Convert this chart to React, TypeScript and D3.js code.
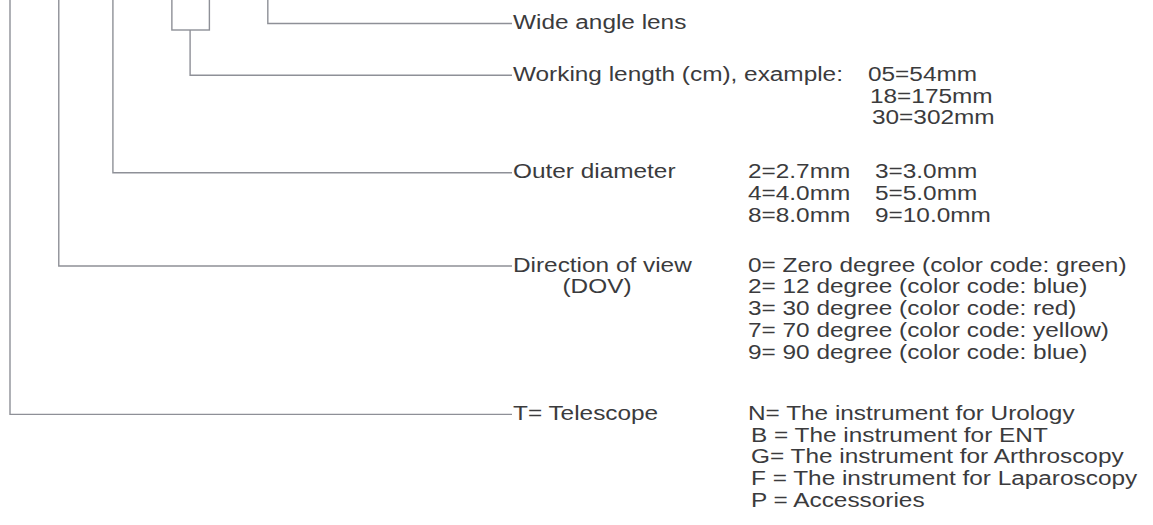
import * as d3 from "d3";

const W = 1153;
const H = 525;

// branches of the code key, top to bottom
const branchLabels = [
  "Wide angle lens",
  "Working length (cm), example:",
  "Outer diameter",
  "Direction of view",
  "T= Telescope",
];
const branchSub = ["", "", "", "(DOV)", ""];
// text line (in line units from the top) each branch sits on
const branchRow = [0, 2.38, 6.86, 11.15, 17.97];
// slot of the code character each branch hangs from (0 = leftmost)
const branchSlot = [4.81, 3.36, 1.92, 0.91, 0];

const workingLength = ["05=54mm", "18=175mm", "30=302mm"];
const outerDiameter = [
  ["2=2.7mm", "3=3.0mm"],
  ["4=4.0mm", "5=5.0mm"],
  ["8=8.0mm", "9=10.0mm"],
];
const dovCodes = [
  "0= Zero degree (color code: green)",
  "2= 12 degree (color code: blue)",
  "3= 30 degree (color code: red)",
  "7= 70 degree (color code: yellow)",
  "9= 90 degree (color code: blue)",
];
const instrumentCodes = [
  "N= The instrument for Urology",
  "B = The instrument for ENT",
  "G= The instrument for Arthroscopy",
  "F = The instrument for Laparoscopy",
  "P = Accessories",
];

const FONT = "'Liberation Sans', Arial, Helvetica, sans-serif";
const FS = 19.5;
const SX = 1.25; // the print face is wide, stretch it
const TEXT = "#3b3b3d";
const LINE = "#8e9097";

export default function App() {
  const rowY = d3.scaleLinear().domain([0, 1]).range([29, 50.75]);
  const slotX = d3.scaleLinear().domain([0, 1]).range([10, 63.6]);
  const labelX = 513;
  const valueX = 748;
  const value2X = 875;
  const wlX = 868;
  const lineOff = 5.5;

  const Txt = ({ x, y, s, anchor = "start" }: { x: number; y: number; s: string; anchor?: string }) => (
    <text
      transform={`translate(${x},${y}) scale(${SX},1)`}
      textAnchor={anchor as any}
      fontFamily={FONT}
      fontSize={FS}
      fill={TEXT}
    >
      {s}
    </text>
  );

  const wlIdx = 1;
  const boxL = slotX(3.02);
  const boxR = slotX(3.72);
  const boxBottom = 30;

  return (
    <svg width={W} height={H} style={{ position: "absolute", left: 0, top: 0, background: "#fff" }}>
      {/* connector lines */}
      <g stroke={LINE} strokeWidth={1.4} fill="none">
        <rect x={boxL} y={-3} width={boxR - boxL} height={boxBottom + 3} />
        {branchLabels.map((_, i) => {
          const x = slotX(branchSlot[i]);
          const y = rowY(branchRow[i]) - lineOff;
          const top = i === wlIdx ? boxBottom : -2;
          return <path key={i} d={`M${x},${top}V${y}H${labelX - 1}`} />;
        })}
      </g>

      {/* branch labels */}
      {branchLabels.map((s, i) => (
        <Txt key={i} x={labelX} y={rowY(branchRow[i])} s={s} />
      ))}
      {branchSub.map((s, i) =>
        s ? <Txt key={"s" + i} x={597} y={rowY(branchRow[i] + 1)} s={s} anchor="middle" /> : null
      )}

      {/* working length examples */}
      {workingLength.map((s, i) => (
        <Txt key={"w" + i} x={wlX + i * 2} y={rowY(branchRow[1] + i)} s={s} />
      ))}

      {/* outer diameter */}
      {outerDiameter.map((pair, i) => (
        <g key={"o" + i}>
          <Txt x={valueX} y={rowY(branchRow[2] + i)} s={pair[0]} />
          <Txt x={value2X} y={rowY(branchRow[2] + i)} s={pair[1]} />
        </g>
      ))}

      {/* direction of view */}
      {dovCodes.map((s, i) => (
        <Txt key={"d" + i} x={valueX} y={rowY(branchRow[3] + i)} s={s} />
      ))}

      {/* instrument type */}
      {instrumentCodes.map((s, i) => (
        <Txt key={"t" + i} x={valueX + (i === 0 ? 0 : 3)} y={rowY(branchRow[4] + i)} s={s} />
      ))}
    </svg>
  );
}
